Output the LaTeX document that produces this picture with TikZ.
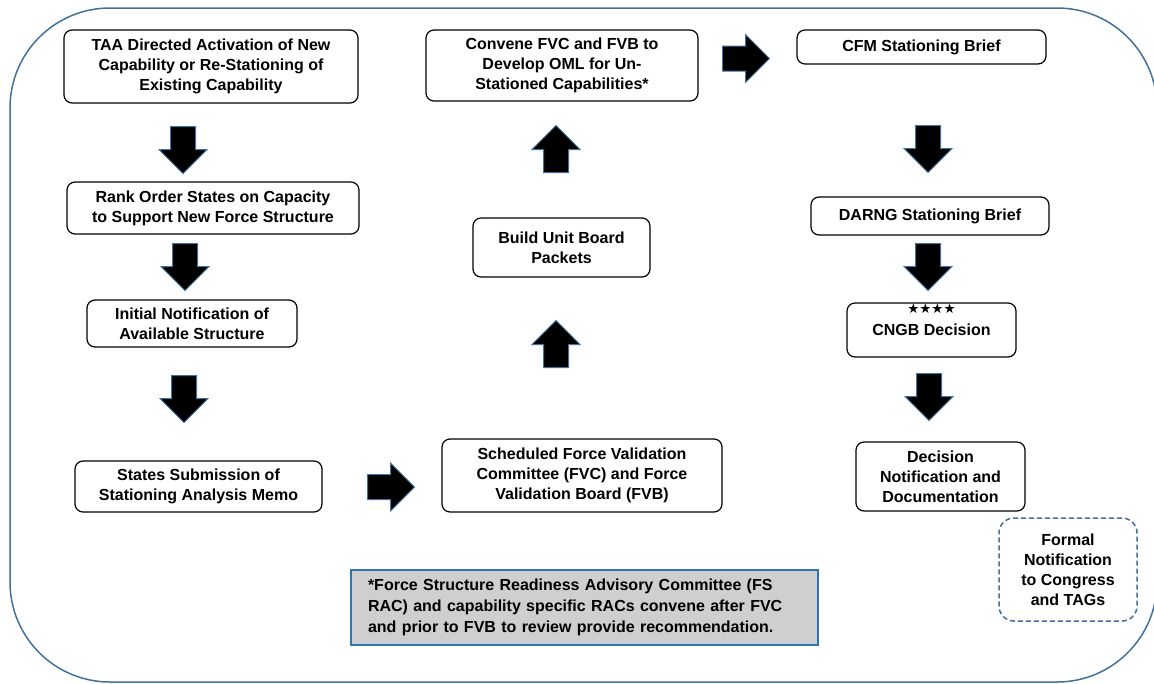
\documentclass[tikz,border=0pt]{standalone}
\usepackage{fontspec}
\setmainfont{Liberation Sans}
\newfontfamily\starfont{DejaVu Sans}
\usetikzlibrary{shapes.arrows}

\definecolor{frameblue}{HTML}{41719C}
\definecolor{noteblue}{HTML}{2E75B6}
\definecolor{notegray}{HTML}{D0CECE}

\begin{document}
\begin{tikzpicture}[x=1pt, y=-1pt,
        stepbox/.style={draw, rounded corners=8pt, line width=1.2pt, fill=white,
            align=center, inner sep=0pt, font=\bfseries\fontsize{16}{20}\selectfont},
        bigarrow/.style={single arrow, draw=frameblue, fill=black, line width=1pt,
            minimum height=47pt, single arrow head extend=11.5pt,
            inner sep=12pt, anchor=tail, shape border rotate=#1}]
        \useasboundingbox (0,0) rectangle (1154,683);

        % Outer frame, partly cut by the page
        \draw[frameblue, line width=1.5pt, rounded corners=100pt] (10,8) rectangle (1157,682);

        % Left column
        \node[stepbox, minimum width=294pt, minimum height=73pt] (taa) at (211,66.5)
            {TAA Directed Activation of New\\Capability or Re-Stationing of\\Existing Capability};
        \node[stepbox, minimum width=292pt, minimum height=52pt] (rank) at (213,208)
            {Rank Order States on Capacity\\to Support New Force Structure};
        \node[stepbox, minimum width=210pt, minimum height=47pt] (initial) at (192,323.5)
            {Initial Notification of\\Available Structure};
        \node[stepbox, minimum width=247pt, minimum height=51pt] (states) at (198.5,486.5)
            {States Submission of\\Stationing Analysis Memo};

        % Middle column
        \node[stepbox, minimum width=280pt, minimum height=73pt] (sched) at (582,475.5)
            {Scheduled Force Validation\\Committee (FVC) and Force\\Validation Board (FVB)};
        \node[stepbox, minimum width=177pt, minimum height=59pt] (build) at (561.5,247.5)
            {Build Unit Board\\Packets};
        \node[stepbox, minimum width=272pt, minimum height=71pt] (convene) at (562,65.5)
            {Convene FVC and FVB to\\Develop OML for Un-\\Stationed Capabilities*};

        % Right column
        \node[stepbox, minimum width=249pt, minimum height=34pt] (cfm) at (921.5,47)
            {CFM Stationing Brief};
        \node[stepbox, minimum width=238pt, minimum height=38pt] (darng) at (930,216)
            {DARNG Stationing Brief};
        \node[stepbox, minimum width=169pt, minimum height=54pt,
            label={[anchor=north, inner sep=1pt, yshift=0pt, font=\starfont\fontsize{13.5}{13.5}\selectfont]north:★★★★}]
            (cngb) at (931.5,330) {CNGB Decision};
        \node[stepbox, minimum width=169pt, minimum height=69pt] (decision) at (940.5,476.5)
            {Decision\\Notification and\\Documentation};
        \node[stepbox, draw=frameblue, rounded corners=15pt, dash pattern=on 5pt off 3pt,
            line width=1.5pt, minimum width=138pt, minimum height=103pt] (formal) at (1068,569.5)
            {Formal\\Notification\\to Congress\\and TAGs};

        % Footnote
        \node[draw=noteblue, fill=notegray, line width=1.5pt, align=left, text width=433pt,
            inner xsep=17pt, minimum height=75pt, font=\bfseries\fontsize{16}{21}\selectfont]
            (note) at (584.5,607.5)
            {*Force Structure Readiness Advisory Committee (FS\\RAC) and capability specific RACs convene after FVC\\and prior to FVB to review provide recommendation.};

        % Block arrows, placed by their tails
        \node[bigarrow=270] (d1) at (183,126) {};
        \node[bigarrow=270] (d2) at (185,243) {};
        \node[bigarrow=270] (d3) at (184,375) {};
        \node[bigarrow=0] (r1) at (367,487) {};
        \node[bigarrow=90] (u1) at (556,368) {};
        \node[bigarrow=90] (u2) at (556,173) {};
        \node[bigarrow=0] (r2) at (722,58.5) {};
        \node[bigarrow=270] (d4) at (928,125) {};
        \node[bigarrow=270] (d5) at (928,243) {};
        \node[bigarrow=270] (d6) at (929,373) {};
    \end{tikzpicture}
\end{document}
